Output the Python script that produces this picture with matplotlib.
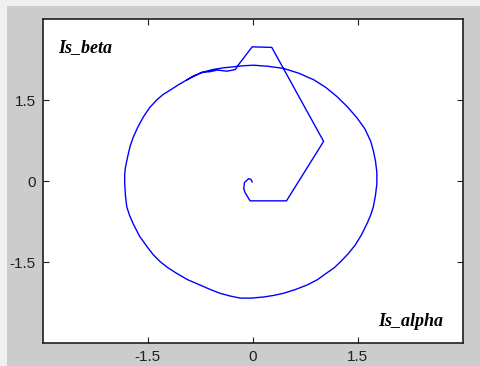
import matplotlib
matplotlib.use("Agg")
import matplotlib.pyplot as plt
from matplotlib.patches import Rectangle

# start-up transient: hook near the origin, then the jump out to the circle
start_alpha = [-0.01, -0.03, -0.06, -0.12, -0.13, -0.11, -0.04, 0.48, 1.01,
               0.27, -0.01, -0.21, -0.25, -0.37, -0.51, -0.61, -0.73]
start_beta = [-0.01, 0.04, 0.05, -0.02, -0.14, -0.21, -0.36, -0.36, 0.74,
              2.48, 2.49, 2.15, 2.07, 2.04, 2.06, 2.03, 2.02]

# steady state: stator current locus, counter-clockwise
ss_alpha = [-0.94, -1.06, -1.18, -1.28, -1.37, -1.47, -1.56, -1.64, -1.71, -1.75,
            -1.78, -1.80, -1.82, -1.83, -1.83, -1.82, -1.80, -1.76, -1.71, -1.62,
            -1.51, -1.42, -1.32, -1.21, -1.09, -0.93, -0.75, -0.61, -0.47, -0.33,
            -0.18, -0.02, 0.15, 0.30, 0.44, 0.61, 0.77, 0.92, 1.06, 1.16,
            1.25, 1.36, 1.46, 1.55, 1.63, 1.68, 1.72, 1.75, 1.77, 1.77,
            1.75, 1.72, 1.68, 1.60, 1.49, 1.35, 1.20, 1.04, 0.87, 0.66,
            0.44, 0.22, 0.01, -0.14, -0.28, -0.43, -0.57, -0.66, -0.75, -0.85,
            -0.94]
ss_beta = [1.88, 1.79, 1.69, 1.61, 1.51, 1.37, 1.20, 1.01, 0.81, 0.66,
           0.50, 0.38, 0.25, 0.12, -0.02, -0.25, -0.47, -0.63, -0.78, -1.01,
           -1.21, -1.36, -1.49, -1.60, -1.70, -1.82, -1.92, -2.00, -2.07, -2.12,
           -2.16, -2.16, -2.14, -2.11, -2.07, -2.00, -1.92, -1.82, -1.69, -1.60,
           -1.49, -1.34, -1.18, -0.99, -0.78, -0.63, -0.47, -0.26, -0.05, 0.17,
           0.38, 0.57, 0.75, 0.97, 1.17, 1.38, 1.57, 1.74, 1.88, 2.00,
           2.09, 2.13, 2.15, 2.14, 2.12, 2.10, 2.07, 2.04, 2.00, 1.95,
           1.88]

ticks = [-1.5, 0, 1.5]
tick_labels = ["-1.5", "0", "1.5"]

fig = plt.figure(figsize=(4.81, 3.66), dpi=100)
fig.patch.set_facecolor("#f0f0f0")
# grey window panel
fig.patches.append(Rectangle((7 / 481, 0), 1, 1 - 6 / 366, transform=fig.transFigure,
                             facecolor="#cccccc", edgecolor="none", zorder=-10))

ax = fig.add_axes([0.0888, 0.0615, 0.8738, 0.8858])
ax.set_zorder(5)
ax.set_facecolor("white")

ax.plot(start_alpha + ss_alpha, start_beta + ss_beta, color="#0000ff", lw=1.0)

ax.set_xlim(-3, 3)
ax.set_ylim(-3, 3)
ax.set_xticks(ticks)
ax.set_xticklabels(tick_labels)
ax.set_yticks(ticks)
ax.set_yticklabels(tick_labels)
ax.tick_params(direction="in", length=4, width=0.8, top=True, right=True,
               labelsize=11, pad=5, colors="#202020")
for lab in ax.get_xticklabels() + ax.get_yticklabels():
    lab.set_fontfamily("Liberation Sans")
for sp in ax.spines.values():
    sp.set_color("#202020")
    sp.set_linewidth(1.2)

ax.text(-2.78, 2.40, "Is_beta", fontfamily="Liberation Serif", fontweight="bold",
        fontstyle="italic", fontsize=13, va="baseline", ha="left")
ax.text(1.79, -2.68, "Is_alpha", fontfamily="Liberation Serif", fontweight="bold",
        fontstyle="italic", fontsize=13, va="baseline", ha="left")

fig.savefig("out.png", dpi=100, facecolor=fig.get_facecolor())
